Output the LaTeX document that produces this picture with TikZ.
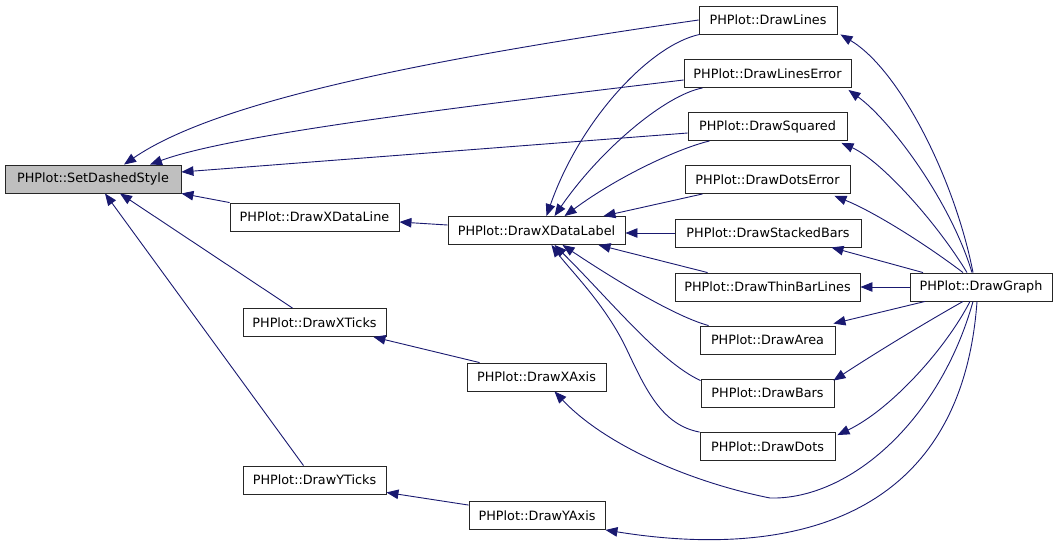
\documentclass[tikz,border=0pt]{standalone}
\usepackage{fontspec}
\setmainfont{DejaVu Sans}
\usetikzlibrary{arrows.meta}
\definecolor{edgeblue}{HTML}{191970}
\definecolor{nodegray}{HTML}{BFBFBF}
\begin{document}
\begin{tikzpicture}[x=1pt,y=-1pt,
  fn/.style={draw=black!85,line width=0.9pt,fill=white,minimum height=28pt,inner sep=0pt,
    font=\fontsize{12.8}{15}\selectfont},
  cur/.style={fn,fill=nodegray},
  edge/.style={draw=edgeblue,line width=0.9pt,-{Triangle[length=12pt,width=9.5pt]}}]
\useasboundingbox (0,0) rectangle (1059,547);
% nodes
\node[cur,minimum width=176pt] (sds) at (93,179) {PHPlot::SetDashedStyle};
\node[fn,minimum width=169pt] (xdl) at (314.5,217) {PHPlot::DrawXDataLine};
\node[fn,minimum width=177pt] (xlab) at (536.5,230.5) {PHPlot::DrawXDataLabel};
\node[fn,minimum width=138pt] (lines) at (768,20) {PHPlot::DrawLines};
\node[fn,minimum width=167pt] (linesErr) at (767.5,73.5) {PHPlot::DrawLinesError};
\node[fn,minimum width=159pt] (squared) at (767.5,126.5) {PHPlot::DrawSquared};
\node[fn,minimum width=165pt] (dotsErr) at (767.5,179.5) {PHPlot::DrawDotsError};
\node[fn,minimum width=186pt] (stacked) at (768,233) {PHPlot::DrawStackedBars};
\node[fn,minimum width=185pt] (thin) at (767.5,287) {PHPlot::DrawThinBarLines};
\node[fn,minimum width=142pt] (graph) at (981,287) {PHPlot::DrawGraph};
\node[fn,minimum width=135pt] (area) at (767.5,340) {PHPlot::DrawArea};
\node[fn,minimum width=133pt] (bars) at (767.5,393) {PHPlot::DrawBars};
\node[fn,minimum width=135pt] (dots) at (767.5,446.5) {PHPlot::DrawDots};
\node[fn,minimum width=143pt] (xticks) at (314.5,322.5) {PHPlot::DrawXTicks};
\node[fn,minimum width=139pt] (xaxis) at (536.5,377) {PHPlot::DrawXAxis};
\node[fn,minimum width=143pt] (yticks) at (314.5,480) {PHPlot::DrawYTicks};
\node[fn,minimum width=136pt] (yaxis) at (537,515.5) {PHPlot::DrawYAxis};
% edges into SetDashedStyle
\draw[edge] (lines.west) .. controls (420,60) and (215,102) .. ([xshift=31pt]sds.north);
\draw[edge] ([yshift=-6.5pt]linesErr.west) .. controls (450,108) and (230,135) .. ([xshift=57pt]sds.north);
\draw[edge] ([yshift=-6.5pt]squared.west) -- ([yshift=7pt]sds.east);
\draw[edge] (xdl.north west) -- (sds.south east);
\draw[edge] ([xshift=-22pt]xticks.north) -- ([xshift=27pt]sds.south);
\draw[edge] ([xshift=-11pt]yticks.north) -- ([xshift=12pt]sds.south);
% into DrawXDataLine
\draw[edge] ([yshift=5.5pt]xlab.west) -- ([yshift=-5pt]xdl.east);
% into DrawXDataLabel
\draw[edge] ([xshift=1pt]lines.south west) .. controls (650,45) and (580,120) .. ([xshift=10pt]xlab.north);
\draw[edge] ([xshift=19pt]linesErr.south west) .. controls (665,95) and (600,150) .. ([xshift=18pt]xlab.north);
\draw[edge] ([xshift=22pt]squared.south west) .. controls (680,148) and (620,175) .. ([xshift=28pt]xlab.north);
\draw[edge] ([xshift=18pt]dotsErr.south west) -- ([xshift=-22pt]xlab.north east);
\draw[edge] (stacked.west) -- (stacked.west -| xlab.east);
\draw[edge] ([xshift=33pt]thin.north west) -- ([xshift=-27pt]xlab.south east);
\draw[edge] ([xshift=9pt]area.north west) .. controls (670,315) and (600,270) .. ([xshift=26pt]xlab.south);
\draw[edge] ([yshift=-2pt]bars.north west) .. controls (660,362) and (610,300) .. ([xshift=18pt]xlab.south);
\draw[edge] (dots.north west) .. controls (662,425) and (646,390) .. (627,350)
  .. controls (606,305) and (570,270) .. ([xshift=15pt]xlab.south);
% axes to ticks
\draw[edge] ([xshift=13pt]xaxis.north west) -- ([xshift=-13pt]xticks.south east);
\draw[edge] ([yshift=-4pt]yaxis.north west) -- ([yshift=2pt]yticks.south east);
% from DrawGraph
\draw[edge] ([xshift=-8pt]graph.north) .. controls (955,180) and (900,70) .. ([xshift=3pt]lines.south east);
\draw[edge] ([xshift=-9pt]graph.north) .. controls (950,200) and (890,120) .. ([xshift=-3pt,yshift=-2pt]linesErr.south east);
\draw[edge] ([xshift=-14pt]graph.north) .. controls (935,220) and (880,160) .. ([xshift=-6pt,yshift=-2pt]squared.south east);
\draw[edge] ([xshift=-18pt]graph.north) .. controls (920,240) and (870,210) .. ([xshift=-16pt,yshift=-2pt]dotsErr.south east);
\draw[edge] ([xshift=-58pt]graph.north) -- ([xshift=-30pt]stacked.south east);
\draw[edge] (graph.west) -- (thin.east);
\draw[edge] ([xshift=-56pt]graph.south) -- ([xshift=-2pt,yshift=2pt]area.north east);
\draw[edge] ([xshift=-18pt]graph.south) .. controls (930,320) and (880,350) .. ([xshift=-1pt,yshift=-2pt]bars.north east);
\draw[edge] ([xshift=-11pt]graph.south) .. controls (945,350) and (890,410) .. ([xshift=2pt,yshift=-3pt]dots.north east);
\draw[edge] ([xshift=-8pt]graph.south) .. controls (940,420) and (850,500) .. (770,498)
  .. controls (690,482) and (605,445) .. ([xshift=18pt]xaxis.south);
\draw[edge] ([xshift=-4pt]graph.south) .. controls (960,540) and (760,555) .. (yaxis.south east);
\end{tikzpicture}
\end{document}
